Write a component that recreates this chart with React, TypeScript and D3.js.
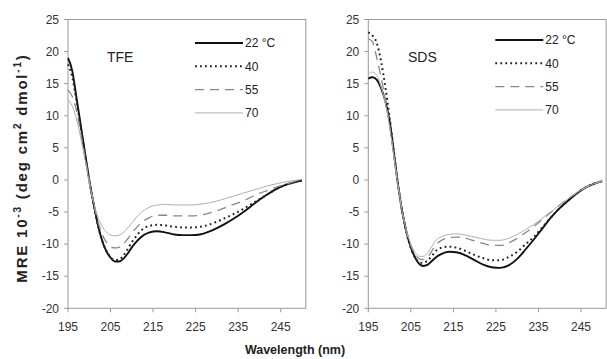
import React from "react";
import * as d3 from "d3";

const wavelengths = [195,196,197,198,199,200,201,202,203,204,205,206,207,208,209,210,211,212,214,216,218,220,222,224,226,228,230,232,234,236,238,240,242,244,246,248,250];

const tfe22 = [19,17,12.8,8.5,4.2,0,-3.6,-6.9,-9.4,-11.1,-12.1,-12.7,-12.7,-12.3,-11.5,-10.5,-9.7,-9.0,-8.2,-8.0,-8.2,-8.5,-8.6,-8.6,-8.5,-8.1,-7.5,-6.8,-6.0,-5.1,-4.1,-3.1,-2.2,-1.4,-0.8,-0.4,-0.1];
const tfe40 = [18,16,12.3,8.2,4,-0.1,-3.8,-7.0,-9.4,-11.0,-12.0,-12.5,-12.4,-11.8,-10.8,-9.7,-8.8,-8.0,-7.2,-7.0,-7.1,-7.3,-7.4,-7.4,-7.3,-7.0,-6.5,-5.9,-5.3,-4.6,-3.8,-3.0,-2.2,-1.4,-0.8,-0.4,-0.1];
const tfe55 = [14,13,10.8,7.3,3.6,-0.2,-3.6,-6.4,-8.4,-9.7,-10.4,-10.6,-10.5,-10.0,-9.2,-8.3,-7.5,-6.8,-5.9,-5.5,-5.5,-5.6,-5.6,-5.6,-5.5,-5.2,-4.8,-4.3,-3.8,-3.3,-2.7,-2.1,-1.6,-1.1,-0.7,-0.3,0];
const tfe70 = [12.5,11.5,9.5,6.5,3.2,-0.3,-3.4,-5.7,-7.2,-8.1,-8.6,-8.7,-8.6,-8.2,-7.5,-6.7,-5.9,-5.2,-4.3,-3.9,-3.8,-3.9,-3.9,-3.9,-3.8,-3.6,-3.3,-2.9,-2.5,-2.1,-1.7,-1.3,-0.9,-0.6,-0.3,-0.1,0.1];

const sds22 = [15.8,16.0,15.6,14.3,12.3,9.2,4.3,-0.8,-5,-8.2,-10.5,-12.1,-13.1,-13.4,-13.2,-12.6,-12.0,-11.6,-11.2,-11.3,-11.8,-12.5,-13.2,-13.6,-13.7,-13.3,-12.3,-10.8,-9.2,-7.5,-5.8,-4.4,-3.2,-2.1,-1.2,-0.6,-0.2];
const sds40 = [23,22.5,21.3,18.5,14.5,9.8,4.5,-0.7,-5,-8.3,-10.6,-12.1,-12.8,-12.9,-12.5,-11.8,-11.0,-10.6,-10.4,-10.6,-11.1,-11.7,-12.2,-12.5,-12.5,-12.0,-11.2,-10.0,-8.8,-7.3,-5.8,-4.4,-3.2,-2.1,-1.2,-0.6,-0.2];
const sds55 = [22,21.5,19,16,12.5,8.5,3.8,-0.9,-5,-8,-10.2,-11.6,-12.3,-12.4,-12.0,-11.0,-10.0,-9.5,-9.0,-8.9,-9.1,-9.5,-9.9,-10.2,-10.2,-9.8,-9.1,-8.2,-7.2,-6.1,-5.0,-3.9,-2.9,-2.0,-1.2,-0.6,-0.2];
const sds70 = [16.5,16.8,16.3,14.5,12,8.3,3.8,-0.9,-5,-8,-10,-11.3,-11.9,-11.9,-11.3,-10.3,-9.3,-8.9,-8.5,-8.4,-8.6,-8.9,-9.2,-9.4,-9.4,-9.1,-8.5,-7.7,-6.9,-5.9,-4.9,-3.9,-2.9,-2.0,-1.2,-0.6,-0.2];

const seriesNames = ["22 °C", "40", "55", "70"];
const xTicks = [195, 205, 215, 225, 235, 245];
const yTicks = [25, 20, 15, 10, 5, 0, -5, -10, -15, -20];

const styles = [
  { stroke: "#111", width: 1.9, dash: "none" },
  { stroke: "#222", width: 2, dash: "1.8 3.2" },
  { stroke: "#888", width: 1.3, dash: "9 6" },
  { stroke: "#b0b0b0", width: 1, dash: "none" },
];

const FONT = "'Liberation Sans', Arial, sans-serif";

function Panel({ left, label, data, legendTop, labelX }: any) {
  const x = d3.scaleLinear().domain([195, 245]).range([left, left + 212.7]);
  const y = d3.scaleLinear().domain([25, -20]).range([19.5, 308.3]);
  const right = x(250.9);
  const line = d3
    .line<number>()
    .x((_, i) => x(wavelengths[i]))
    .y((v) => y(v))
    .curve(d3.curveMonotoneX);
  return (
    <g>
      <rect x={x(195)} y={y(25)} width={right - x(195)} height={y(-20) - y(25)} fill="none" stroke="#999" strokeWidth={1} />
      {yTicks.map((t) => (
        <g key={"y" + t}>
          <line x1={x(195) - 4} x2={x(195)} y1={y(t)} y2={y(t)} stroke="#999" />
          <text x={x(195) - 9} y={y(t)} dy="0.35em" textAnchor="end" fontSize={12} fill="#333" fontFamily={FONT}>{t}</text>
        </g>
      ))}
      {xTicks.map((t) => (
        <g key={"x" + t}>
          <line x1={x(t)} x2={x(t)} y1={y(-20)} y2={y(-20) + 4} stroke="#999" />
          <text x={x(t)} y={y(-20) + 23} textAnchor="middle" fontSize={12} fill="#333" fontFamily={FONT}>{t}</text>
        </g>
      ))}
      {data.map((s: number[], i: number) => (
        <path key={i} d={line(s) || ""} fill="none" stroke={styles[i].stroke} strokeWidth={styles[i].width} strokeDasharray={styles[i].dash} strokeLinejoin="round" />
      ))}
      <text x={labelX} y={62} fontSize={14} fill="#222" fontFamily={FONT}>{label}</text>
      {seriesNames.map((n, i) => {
        const yy = legendTop + i * 23.3;
        const lx = x(195) + 127;
        return (
          <g key={n}>
            <line x1={lx} x2={lx + 48} y1={yy} y2={yy} stroke={styles[i].stroke} strokeWidth={styles[i].width} strokeDasharray={styles[i].dash} />
            <text x={lx + 50} y={yy} dy="0.35em" fontSize={12} fill="#222" fontFamily={FONT}>{n}</text>
          </g>
        );
      })}
    </g>
  );
}

export default function App() {
  return (
    <svg width={607} height={359} style={{ position: "absolute", left: 0, top: 0, background: "#fff" }}>
      <rect width={607} height={359} fill="#fff" />
      <Panel left={68} label="TFE" data={[tfe22, tfe40, tfe55, tfe70]} legendTop={43} labelX={107} />
      <Panel left={368.3} label="SDS" data={[sds22, sds40, sds55, sds70]} legendTop={40} labelX={408} />
      <text transform="translate(27,168) rotate(-90)" textAnchor="middle" fontSize={15} fontWeight="bold" letterSpacing={1.8} fill="#222" fontFamily={FONT}>
        MRE 10<tspan dy={-6} fontSize={10}>-3</tspan><tspan dy={6}> (deg cm</tspan><tspan dy={-6} fontSize={10}>2</tspan><tspan dy={6}> dmol</tspan><tspan dy={-6} fontSize={10}>-1</tspan><tspan dy={6}>)</tspan>
      </text>
      <text x={295} y={354} textAnchor="middle" fontSize={12.5} fontWeight="bold" fill="#222" fontFamily={FONT}>Wavelength (nm)</text>
    </svg>
  );
}
